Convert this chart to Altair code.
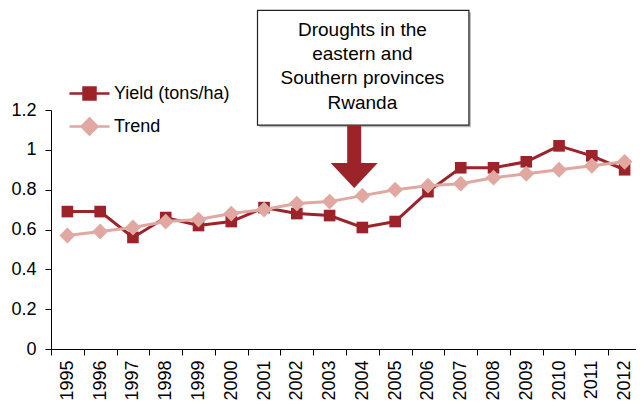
import altair as alt
import pandas as pd

years = [str(y) for y in range(1995, 2013)]
yield_vals = [0.69, 0.69, 0.56, 0.66, 0.62, 0.64, 0.71, 0.68, 0.67, 0.61,
              0.64, 0.79, 0.91, 0.91, 0.94, 1.02, 0.97, 0.90]
trend_vals = [0.57, 0.59, 0.61, 0.64, 0.65, 0.68, 0.70, 0.73, 0.74, 0.77,
              0.80, 0.82, 0.83, 0.86, 0.88, 0.90, 0.92, 0.94]
series_names = ["Yield (tons/ha)", "Trend"]
y_ticks = [0, 0.2, 0.4, 0.6, 0.8, 1.0, 1.2]
note_text = "Droughts in the\neastern and\nSouthern provinces\nRwanda"

DARK = "#9c2329"
PINK = "#e0a8a1"
FONT = "Liberation Sans"

rows = []
for yr, v in zip(years, yield_vals):
    rows.append({"year": yr, "series": series_names[0], "value": v})
for yr, v in zip(years, trend_vals):
    rows.append({"year": yr, "series": series_names[1], "value": v})
df = pd.DataFrame(rows)

xscale = alt.Scale(type="band", domain=years, range=[0, 590],
                   paddingInner=0, paddingOuter=0)
yscale = alt.Scale(domain=[0, 1.2], nice=False, zero=True)

x_axis = alt.Axis(title=None, labelAngle=-90, tickBand="extent",
                  labelFont=FONT, labelFontSize=18, labelColor="black",
                  tickSize=6, tickColor="black", domainColor="black",
                  labelPadding=5, labelBaseline="middle", labelAlign="right",
                  labelOverlap=False)
y_axis = alt.Axis(title=None, values=y_ticks, format="~g", grid=False,
                  labelFont=FONT, labelFontSize=18, labelColor="black",
                  tickSize=6, tickColor="black", domainColor="black",
                  labelPadding=9, labelOverlap=False)

xenc = alt.X("year:O", scale=xscale, bandPosition=0.5, axis=x_axis)
yenc = alt.Y("value:Q", scale=yscale, axis=y_axis)

base = alt.Chart(df).encode(x=xenc, y=yenc)

yield_line = base.transform_filter(alt.datum.series == series_names[0]).mark_line(
    color=DARK, strokeWidth=3)
yield_pts = base.transform_filter(alt.datum.series == series_names[0]).mark_square(
    color=DARK, size=135, opacity=1)
trend_line = base.transform_filter(alt.datum.series == series_names[1]).mark_line(
    color=PINK, strokeWidth=3)
trend_pts = base.transform_filter(alt.datum.series == series_names[1]).mark_point(
    shape="diamond", filled=True, color=PINK, size=250, opacity=1)

yield_sym = "M-1,0H1M-0.3,-0.3H0.3V0.3H-0.3Z"
trend_sym = "M-1,0H1M0,-0.4L0.4,0L0,0.4L-0.4,0Z"

leg = alt.Legend(title=None, orient="none", legendX=17, legendY=-38,
                 labelFont=FONT, labelFontSize=18, labelColor="black",
                 symbolSize=1600, symbolStrokeWidth=2.5, symbolOpacity=1,
                 rowPadding=-12, labelOffset=3, padding=0)
colscale = alt.Scale(domain=series_names, range=[DARK, PINK])
legend_layer = base.mark_point(filled=True, opacity=0, strokeWidth=2.5).encode(
    fill=alt.Fill("series:N", scale=colscale, legend=leg),
    stroke=alt.Stroke("series:N", scale=colscale, legend=leg),
    shape=alt.Shape("series:N", scale=alt.Scale(domain=series_names,
                                                range=[yield_sym, trend_sym]),
                    legend=leg),
)

one = alt.Data(values=[{}])


def ax(d, bp):
    return alt.X(datum=d, type="ordinal", bandPosition=bp, scale=xscale, axis=x_axis)


def ay(v):
    return alt.Y(datum=v, type="quantitative", scale=yscale, axis=y_axis)


box_shadow = alt.Chart(one).mark_rect(fill="#b8b8b8", xOffset=2, yOffset=2,
                                      x2Offset=2, y2Offset=2).encode(
    x=ax("2001", 0.3), x2=alt.X2(datum="2007", bandPosition=0.75),
    y=ay(1.70), y2=alt.Y2(datum=1.124),
)
box = alt.Chart(one).mark_rect(fill="white", stroke="#222222", strokeWidth=1.2).encode(
    x=ax("2001", 0.3), x2=alt.X2(datum="2007", bandPosition=0.75),
    y=ay(1.70), y2=alt.Y2(datum=1.124),
)
note = alt.Chart(one).mark_text(font=FONT, fontSize=19, color="black", lineBreak="\n",
                                lineHeight=24.3, align="center", baseline="middle").encode(
    x=ax("2004", 0.5), y=ay(1.603), text=alt.value(note_text),
)
arrow_path = "M-0.222,-1H0.222V0.206H0.746L0,1L-0.746,0.206H-0.222Z"
arrow = alt.Chart(one).mark_point(shape=arrow_path, filled=True, color=DARK,
                                  size=3969, opacity=1, strokeWidth=0).encode(
    x=ax("2004", 0.25), y=ay(0.966),
)

chart = alt.layer(
    yield_line, yield_pts, trend_line, trend_pts, legend_layer,
    box_shadow, box, note, arrow
).properties(
    width=585, height=239, autosize="none",
    padding={"left": 43, "top": 102, "right": 0, "bottom": 55},
).configure_view(stroke=None)

chart.save("out.html", embed_options={"renderer": "svg", "actions": False})
